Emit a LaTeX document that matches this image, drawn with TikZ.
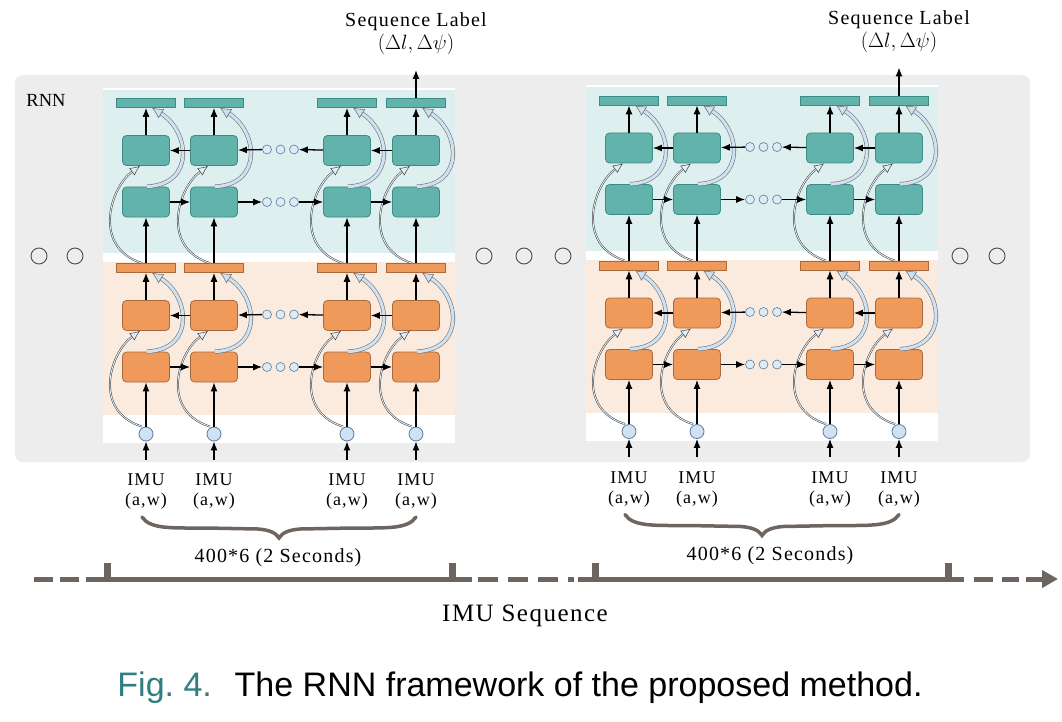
\documentclass[tikz,border=0pt]{standalone}
\usepackage{fontspec}
\setmainfont{Liberation Serif}
\setsansfont{Liberation Sans}
\newfontfamily\spacedfont[LetterSpace=6]{Liberation Serif}
\usetikzlibrary{positioning, arrows.meta}

\definecolor{panelgray}{HTML}{EDEDED}
\definecolor{tealbg}{HTML}{DDEFEF}
\definecolor{orangebg}{HTML}{FBEBDF}
\definecolor{tealbox}{HTML}{63B3AD}
\definecolor{tealedge}{HTML}{3C8B85}
\definecolor{orangebox}{HTML}{EF9A5A}
\definecolor{orangeedge}{HTML}{A86A3C}
\definecolor{cellblue}{HTML}{CFE2F3}
\definecolor{celledge}{HTML}{5B7B98}
\definecolor{axisgray}{HTML}{6E6561}
\definecolor{captionteal}{HTML}{2F7F80}

\begin{document}
\begin{tikzpicture}[
    x=1pt, y=-1pt,
    rnnbox/.style={rectangle, draw=#1edge, fill=#1box, rounded corners=4pt, minimum width=47pt, minimum height=30pt, inner sep=0pt, line width=0.8pt},
    outbar/.style={rectangle, draw=#1edge, fill=#1box, minimum width=59pt, minimum height=9pt, inner sep=0pt, line width=0.6pt},
    incell/.style={circle, draw=celledge, fill=cellblue, minimum size=14pt, inner sep=0pt, line width=0.8pt},
    smalldot/.style={circle, draw=celledge, fill=cellblue!70, minimum size=9pt, inner sep=0pt, line width=0.6pt},
    gapdot/.style={circle, draw=black!70, minimum size=16pt, inner sep=0pt, line width=0.9pt},
    flow/.style={draw, line width=1.3pt, -{Latex[length=9pt, width=7pt]}},
    skipin/.style={draw=black!75, double=cellblue!60, double distance=0.9pt, line width=0.5pt, -{Latex[open, fill=cellblue!60, length=10pt, width=9pt]}},
    skipout/.style={draw=black!55, double=cellblue, double distance=3pt, line width=0.6pt, -{Latex[open, fill=cellblue, length=11pt, width=11pt]}},
    axis/.style={draw=axisgray, line width=5pt},
    lbl/.style={font={\fontsize{18}{20}\spacedfont}, align=center, inner sep=0pt},
    spaced/.style={font={\fontsize{#1}{23}\spacedfont}, align=center, inner sep=0pt}
  ]
  \useasboundingbox (0,0) rectangle (1062,722);
  \fill[white] (0,0) rectangle (1062,722);

  % RNN panel
  \fill[panelgray, rounded corners=8pt] (15,75) rectangle (1030,462);
  \node[font=\fontsize{18.5}{20}\selectfont, inner sep=0pt] (rnn) at (46,100) {RNN};
  \foreach \g/\x in {1/39, 2/75, 3/484, 4/524, 5/563, 6/960, 7/997}
    \node[gapdot] (gap\g) at (\x,256) {};

  % two unrolled windows
  \foreach \p/\px/\py/\tx in {A/0/0/278, B/483/-2.5/287} {
  \begin{scope}[shift={(\px,\py)}]
    \fill[white] (103,88) rectangle (455,443);
    \fill[tealbg] (103,90) rectangle (455,253);
    \fill[orangebg] (103,262) rectangle (455,415);

    % inputs
    \foreach \c/\x in {1/146, 2/214, 3/347, 4/416} {
      \node[incell] (\p in\c) at (\x,434) {};
      \node[lbl] (\p imu\c) at (\x,492) {IMU\\(a,w)};
      \draw[flow] ([yshift=14pt]\p imu\c.north) -- (\p in\c);
    }

    % two bidirectional layers
    \foreach \l/\dy/\col/\src in {o/0/orange/in, t/-165/teal/obar} {
    \begin{scope}[shift={(0,\dy)}]
      \foreach \c/\x in {1/146, 2/214, 3/347, 4/416} {
        \node[rnnbox=\col] (\p\l lo\c) at (\x,367) {};
        \node[rnnbox=\col] (\p\l up\c) at (\x,315.5) {};
        \node[outbar=\col] (\p\l bar\c) at (\x,268) {};
      }
      \foreach \d/\x in {1/267, 2/280.5, 3/294} {
        \node[smalldot] (\p\l dl\d) at (\x,367) {};
        \node[smalldot] (\p\l du\d) at (\x,314.5) {};
      }
    \end{scope}
      \foreach \c in {1,...,4} {
        \draw[flow] (\p\src\c) -- (\p\l lo\c);
        \draw[flow] (\p\l up\c) -- (\p\l bar\c);
        \draw[skipin] ([xshift=-4pt]\p\src\c.north) .. controls +(-50,-16) and +(-30,22) .. ([xshift=-6pt]\p\l up\c.south);
        \draw[skipout] ([xshift=1pt]\p\l lo\c.north) .. controls +(48,-2) and +(38,24) .. ([xshift=6pt]\p\l bar\c.south);
      }
      \draw[flow] (\p\l lo1) -- (\p\l lo2);
      \draw[flow] (\p\l lo2) -- (\p\l dl1);
      \draw[flow] (\p\l dl3) -- (\p\l lo3);
      \draw[flow] (\p\l lo3) -- (\p\l lo4);
      \draw[flow] (\p\l up2) -- (\p\l up1);
      \draw[flow] (\p\l du1) -- (\p\l up2);
      \draw[flow] (\p\l up3) -- (\p\l du3);
      \draw[flow] (\p\l up4) -- (\p\l up3);
    }

    % output label
    \coordinate (\p out) at (416,70);
    \draw[flow] (\p tbar4) -- (\p out);
    \node[spaced=20, anchor=south] (\p seq) at (416,55) {Sequence Label\\$(\Delta l,\Delta\psi)$};

    % window brace
    \draw[axisgray, line width=3.5pt, line cap=round]
      (142,517) .. controls (150,529) and (170,528) .. (205,528) -- (258,529)
      .. controls (270,530) and (276,533) .. (279,538)
      .. controls (282,533) and (288,530) .. (300,529) -- (353,528)
      .. controls (388,528) and (408,529) .. (416,517);
    \node[spaced=20] (\p win) at (\tx,558) {400*6 (2 Seconds)};
  \end{scope}
  }

  % IMU sequence axis
  \draw[axis, dash pattern=on 19pt off 7pt] (34,579) -- (79,579);
  \draw[axis] (86,579) -- (472,579);
  \draw[axis, dash pattern=on 20pt off 10pt] (478,579) -- (574,579);
  \draw[axis] (578,579) -- (964,579);
  \draw[axis, dash pattern=on 19pt off 9pt] (974,579) -- (1019,579);
  \draw[axis, -{Triangle[length=16pt, width=17pt]}] (1026,579) -- (1058,579);
  \foreach \t in {107, 452, 595, 948}
    \fill[axisgray] (\t-3.5,563) rectangle (\t+3.5,578);
  \node[spaced=25] (seqname) at (525,616) {IMU Sequence};

  % caption
  \node[font=\sffamily\fontsize{34}{40}\selectfont, inner sep=0pt] (caption) at (520,688)
    {{\color{captionteal}Fig.~4.}\hspace{0.3em} The RNN framework of the proposed method.};
\end{tikzpicture}
\end{document}
